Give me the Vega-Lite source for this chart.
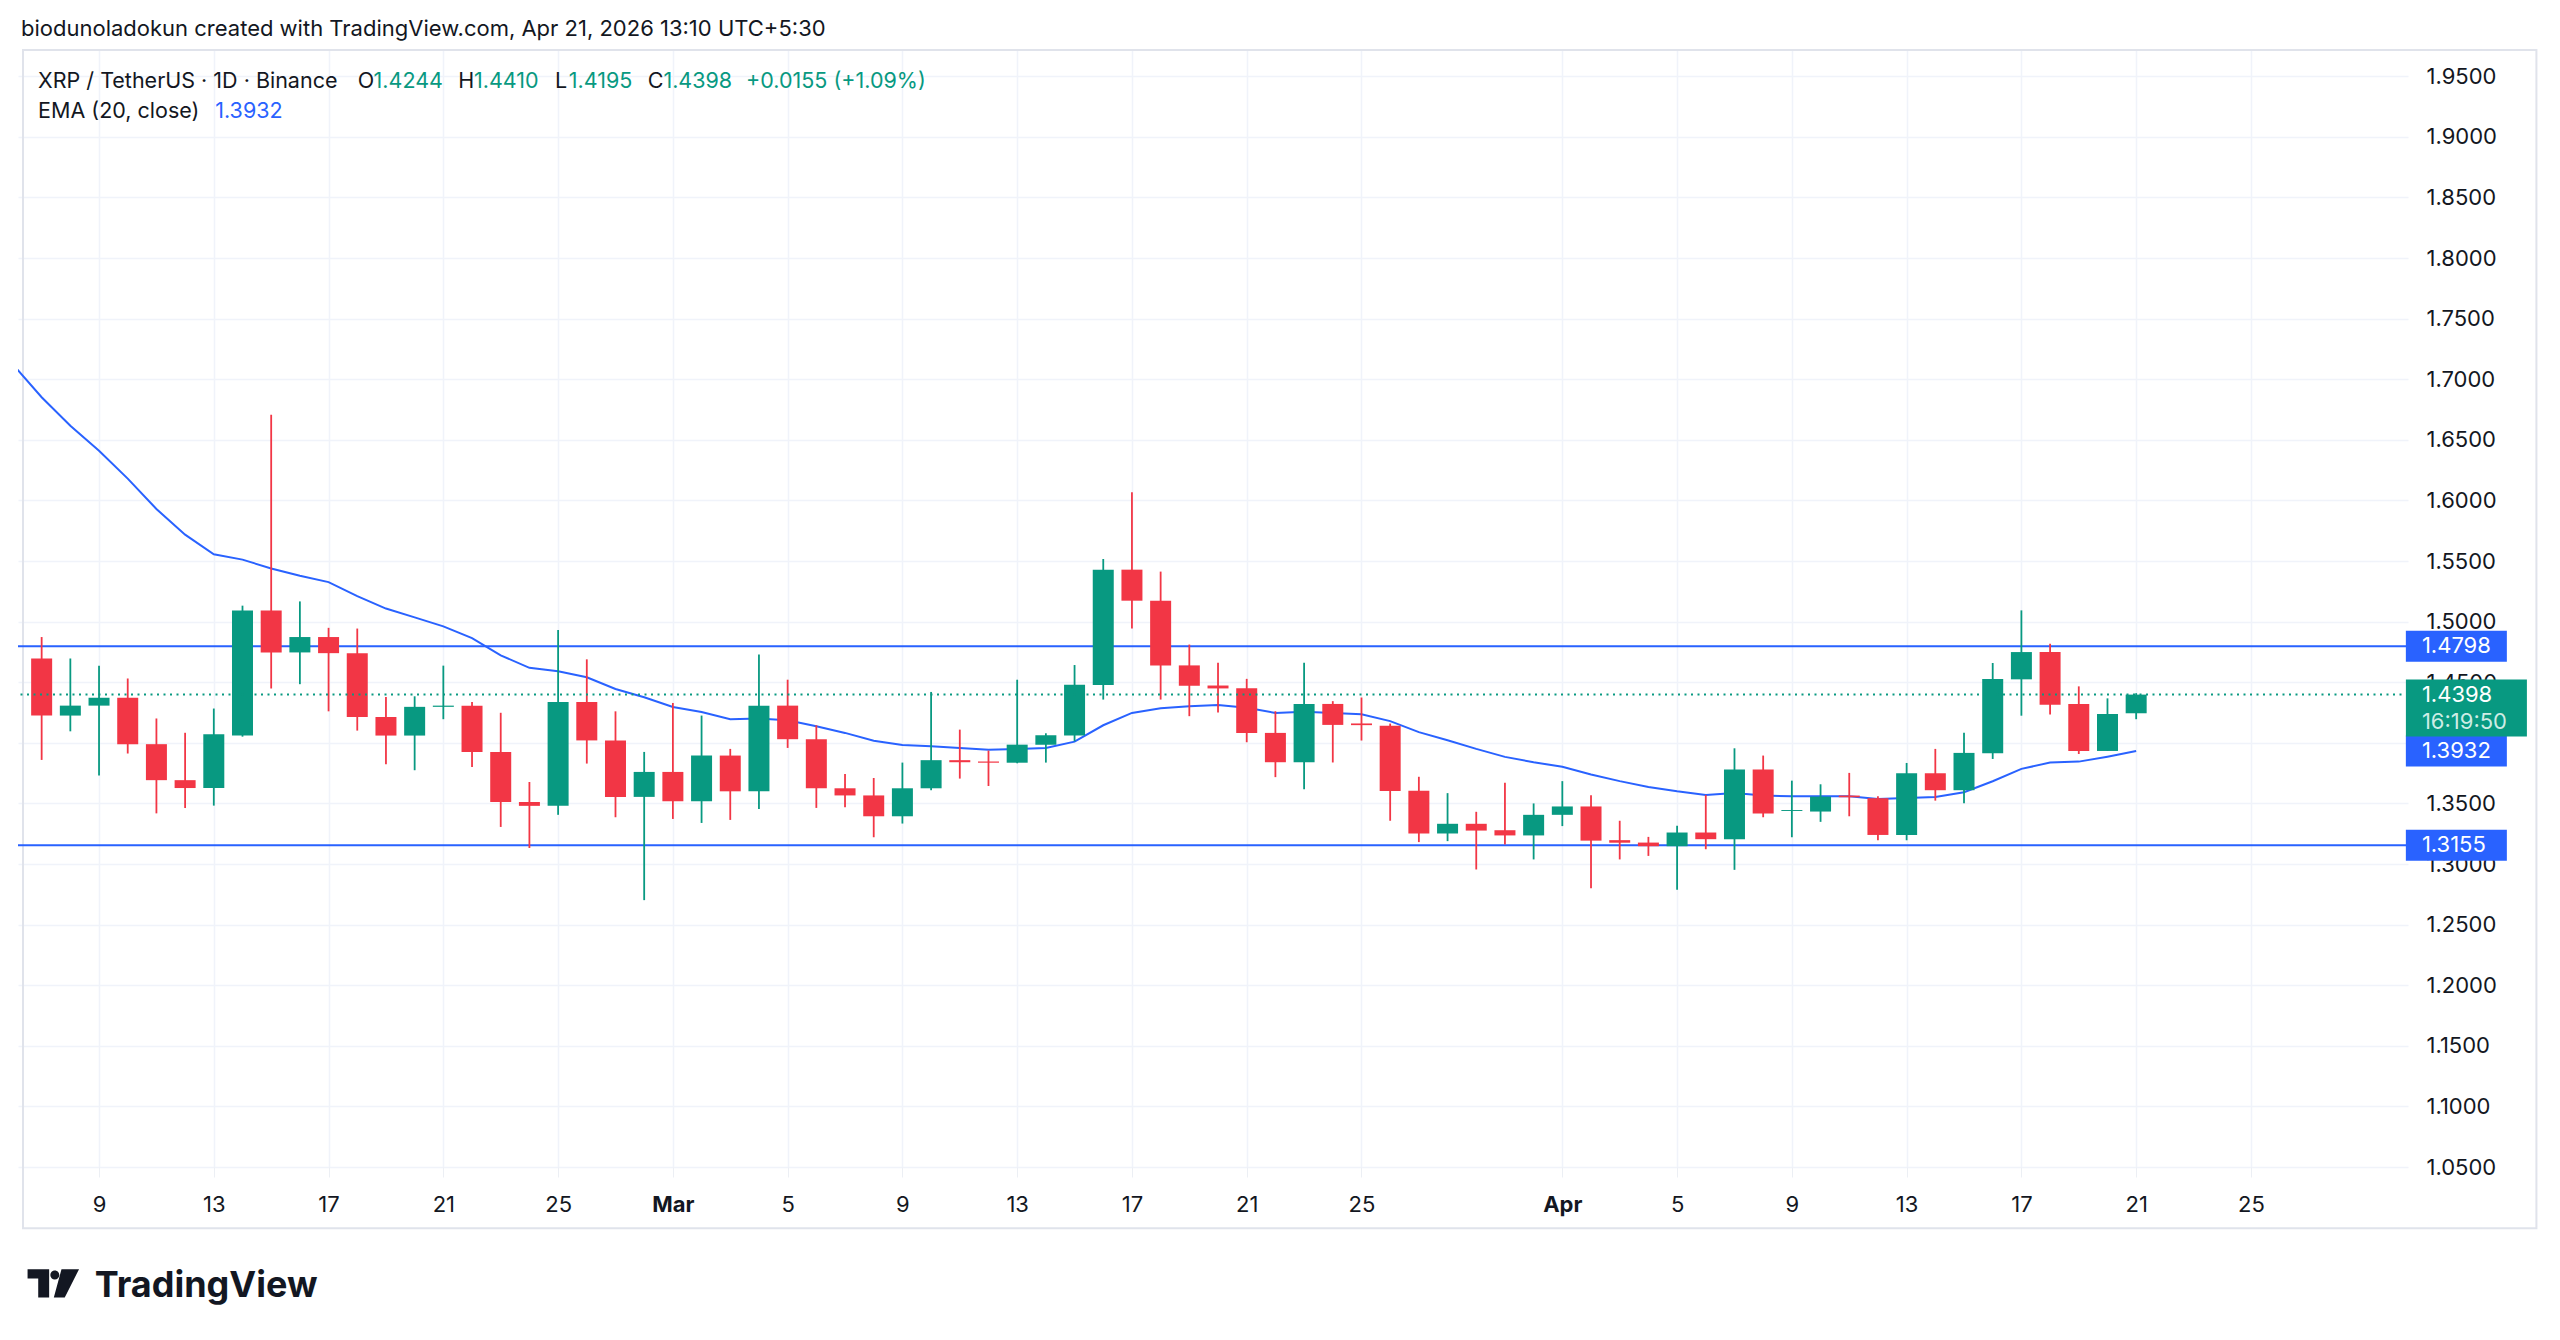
{
  "$schema": "https://vega.github.io/schema/vega-lite/v6.json",
  "autosize": {"type": "none"},
  "width": 2390,
  "height": 1117,
  "padding": {"left": 18, "top": 50, "right": 152, "bottom": 173},
  "background": "#ffffff",
  "title": {
    "text": "biodunoladokun created with TradingView.com, Apr 21, 2026 13:10 UTC+5:30",
    "anchor": "start",
    "frame": "group",
    "offset": 8,
    "dx": 3,
    "fontSize": 22,
    "fontWeight": "normal",
    "color": "#131722"
  },
  "datasets": {
    "candles": [
      {"date": "2026-02-07", "open": 1.4696, "high": 1.4873, "low": 1.3859, "close": 1.4225},
      {"date": "2026-02-08", "open": 1.4225, "high": 1.4696, "low": 1.4095, "close": 1.4307},
      {"date": "2026-02-09", "open": 1.4307, "high": 1.4637, "low": 1.3730, "close": 1.4372},
      {"date": "2026-02-10", "open": 1.4372, "high": 1.4531, "low": 1.3912, "close": 1.3989},
      {"date": "2026-02-11", "open": 1.3989, "high": 1.4201, "low": 1.3418, "close": 1.3692},
      {"date": "2026-02-12", "open": 1.3692, "high": 1.4083, "low": 1.3462, "close": 1.3627},
      {"date": "2026-02-13", "open": 1.3627, "high": 1.4283, "low": 1.3482, "close": 1.4071},
      {"date": "2026-02-14", "open": 1.4060, "high": 1.5132, "low": 1.4051, "close": 1.5091},
      {"date": "2026-02-15", "open": 1.5091, "high": 1.6707, "low": 1.4448, "close": 1.4746},
      {"date": "2026-02-16", "open": 1.4746, "high": 1.5167, "low": 1.4484, "close": 1.4873},
      {"date": "2026-02-17", "open": 1.4873, "high": 1.4949, "low": 1.4260, "close": 1.4740},
      {"date": "2026-02-18", "open": 1.4740, "high": 1.4943, "low": 1.4101, "close": 1.4213},
      {"date": "2026-02-19", "open": 1.4213, "high": 1.4378, "low": 1.3824, "close": 1.4060},
      {"date": "2026-02-20", "open": 1.4060, "high": 1.4384, "low": 1.3774, "close": 1.4297},
      {"date": "2026-02-21", "open": 1.4297, "high": 1.4637, "low": 1.4195, "close": 1.4307},
      {"date": "2026-02-22", "open": 1.4307, "high": 1.4337, "low": 1.3800, "close": 1.3924},
      {"date": "2026-02-23", "open": 1.3924, "high": 1.4248, "low": 1.3306, "close": 1.3512},
      {"date": "2026-02-24", "open": 1.3512, "high": 1.3677, "low": 1.3132, "close": 1.3480},
      {"date": "2026-02-25", "open": 1.3480, "high": 1.4931, "low": 1.3406, "close": 1.4337},
      {"date": "2026-02-26", "open": 1.4337, "high": 1.4689, "low": 1.3829, "close": 1.4020},
      {"date": "2026-02-27", "open": 1.4020, "high": 1.4260, "low": 1.3386, "close": 1.3554},
      {"date": "2026-02-28", "open": 1.3554, "high": 1.3925, "low": 1.2702, "close": 1.3760},
      {"date": "2026-03-01", "open": 1.3760, "high": 1.4329, "low": 1.3372, "close": 1.3518},
      {"date": "2026-03-02", "open": 1.3518, "high": 1.4225, "low": 1.3339, "close": 1.3895},
      {"date": "2026-03-03", "open": 1.3895, "high": 1.3950, "low": 1.3364, "close": 1.3600},
      {"date": "2026-03-04", "open": 1.3600, "high": 1.4728, "low": 1.3455, "close": 1.4307},
      {"date": "2026-03-05", "open": 1.4307, "high": 1.4521, "low": 1.3958, "close": 1.4030},
      {"date": "2026-03-06", "open": 1.4030, "high": 1.4145, "low": 1.3463, "close": 1.3625},
      {"date": "2026-03-07", "open": 1.3625, "high": 1.3743, "low": 1.3469, "close": 1.3566},
      {"date": "2026-03-08", "open": 1.3566, "high": 1.3710, "low": 1.3221, "close": 1.3394},
      {"date": "2026-03-09", "open": 1.3394, "high": 1.3837, "low": 1.3334, "close": 1.3625},
      {"date": "2026-03-10", "open": 1.3625, "high": 1.4420, "low": 1.3609, "close": 1.3857},
      {"date": "2026-03-11", "open": 1.3857, "high": 1.4109, "low": 1.3705, "close": 1.3840},
      {"date": "2026-03-12", "open": 1.3846, "high": 1.3936, "low": 1.3644, "close": 1.3836},
      {"date": "2026-03-13", "open": 1.3836, "high": 1.4521, "low": 1.3831, "close": 1.3985},
      {"date": "2026-03-14", "open": 1.3984, "high": 1.4079, "low": 1.3837, "close": 1.4062},
      {"date": "2026-03-15", "open": 1.4061, "high": 1.4642, "low": 1.4013, "close": 1.4480},
      {"date": "2026-03-16", "open": 1.4478, "high": 1.5517, "low": 1.4357, "close": 1.5429},
      {"date": "2026-03-17", "open": 1.5429, "high": 1.6067, "low": 1.4943, "close": 1.5173},
      {"date": "2026-03-18", "open": 1.5173, "high": 1.5413, "low": 1.4357, "close": 1.4639},
      {"date": "2026-03-19", "open": 1.4639, "high": 1.4811, "low": 1.4220, "close": 1.4471},
      {"date": "2026-03-20", "open": 1.4473, "high": 1.4660, "low": 1.4250, "close": 1.4449},
      {"date": "2026-03-21", "open": 1.4450, "high": 1.4528, "low": 1.4005, "close": 1.4082},
      {"date": "2026-03-22", "open": 1.4082, "high": 1.4261, "low": 1.3717, "close": 1.3840},
      {"date": "2026-03-23", "open": 1.3840, "high": 1.4660, "low": 1.3618, "close": 1.4321},
      {"date": "2026-03-24", "open": 1.4321, "high": 1.4344, "low": 1.3838, "close": 1.4148},
      {"date": "2026-03-25", "open": 1.4160, "high": 1.4374, "low": 1.4019, "close": 1.4146},
      {"date": "2026-03-26", "open": 1.4142, "high": 1.4159, "low": 1.3357, "close": 1.3603},
      {"date": "2026-03-27", "open": 1.3605, "high": 1.3720, "low": 1.3181, "close": 1.3252},
      {"date": "2026-03-28", "open": 1.3252, "high": 1.3585, "low": 1.3189, "close": 1.3332},
      {"date": "2026-03-29", "open": 1.3332, "high": 1.3431, "low": 1.2955, "close": 1.3276},
      {"date": "2026-03-30", "open": 1.3279, "high": 1.3670, "low": 1.3161, "close": 1.3236},
      {"date": "2026-03-31", "open": 1.3236, "high": 1.3500, "low": 1.3038, "close": 1.3406},
      {"date": "2026-04-01", "open": 1.3406, "high": 1.3684, "low": 1.3313, "close": 1.3475},
      {"date": "2026-04-02", "open": 1.3475, "high": 1.3568, "low": 1.2801, "close": 1.3193},
      {"date": "2026-04-03", "open": 1.3197, "high": 1.3357, "low": 1.3038, "close": 1.3176},
      {"date": "2026-04-04", "open": 1.3177, "high": 1.3224, "low": 1.3067, "close": 1.3147},
      {"date": "2026-04-05", "open": 1.3147, "high": 1.3315, "low": 1.2787, "close": 1.3260},
      {"date": "2026-04-06", "open": 1.3260, "high": 1.3570, "low": 1.3122, "close": 1.3205},
      {"date": "2026-04-07", "open": 1.3205, "high": 1.3955, "low": 1.2952, "close": 1.3779},
      {"date": "2026-04-08", "open": 1.3779, "high": 1.3895, "low": 1.3386, "close": 1.3416},
      {"date": "2026-04-09", "open": 1.3438, "high": 1.3688, "low": 1.3221, "close": 1.3446},
      {"date": "2026-04-10", "open": 1.3433, "high": 1.3658, "low": 1.3348, "close": 1.3556},
      {"date": "2026-04-11", "open": 1.3565, "high": 1.3752, "low": 1.3394, "close": 1.3551},
      {"date": "2026-04-12", "open": 1.3543, "high": 1.3559, "low": 1.3196, "close": 1.3240},
      {"date": "2026-04-13", "open": 1.3240, "high": 1.3834, "low": 1.3196, "close": 1.3749},
      {"date": "2026-04-14", "open": 1.3749, "high": 1.3950, "low": 1.3523, "close": 1.3609},
      {"date": "2026-04-15", "open": 1.3609, "high": 1.4084, "low": 1.3501, "close": 1.3917},
      {"date": "2026-04-16", "open": 1.3914, "high": 1.4659, "low": 1.3867, "close": 1.4527},
      {"date": "2026-04-17", "open": 1.4524, "high": 1.5093, "low": 1.4224, "close": 1.4749},
      {"date": "2026-04-18", "open": 1.4749, "high": 1.4818, "low": 1.4233, "close": 1.4315},
      {"date": "2026-04-19", "open": 1.4321, "high": 1.4466, "low": 1.3908, "close": 1.3933},
      {"date": "2026-04-20", "open": 1.3933, "high": 1.4367, "low": 1.3933, "close": 1.4238},
      {"date": "2026-04-21", "open": 1.4244, "high": 1.4410, "low": 1.4195, "close": 1.4398}
    ],
    "ema": [
      {"date": "2026-02-06", "ema": 1.7122},
      {"date": "2026-02-07", "ema": 1.6852},
      {"date": "2026-02-08", "ema": 1.6616},
      {"date": "2026-02-09", "ema": 1.6410},
      {"date": "2026-02-10", "ema": 1.6180},
      {"date": "2026-02-11", "ema": 1.5930},
      {"date": "2026-02-12", "ema": 1.5718},
      {"date": "2026-02-13", "ema": 1.5556},
      {"date": "2026-02-14", "ema": 1.5512},
      {"date": "2026-02-15", "ema": 1.5438},
      {"date": "2026-02-16", "ema": 1.5379},
      {"date": "2026-02-17", "ema": 1.5326},
      {"date": "2026-02-18", "ema": 1.5211},
      {"date": "2026-02-19", "ema": 1.5108},
      {"date": "2026-02-20", "ema": 1.5035},
      {"date": "2026-02-21", "ema": 1.4961},
      {"date": "2026-02-22", "ema": 1.4864},
      {"date": "2026-02-23", "ema": 1.4722},
      {"date": "2026-02-24", "ema": 1.4619},
      {"date": "2026-02-25", "ema": 1.4590},
      {"date": "2026-02-26", "ema": 1.4541},
      {"date": "2026-02-27", "ema": 1.4444},
      {"date": "2026-02-28", "ema": 1.4376},
      {"date": "2026-03-01", "ema": 1.4296},
      {"date": "2026-03-02", "ema": 1.4255},
      {"date": "2026-03-03", "ema": 1.4194},
      {"date": "2026-03-04", "ema": 1.4200},
      {"date": "2026-03-05", "ema": 1.4186},
      {"date": "2026-03-06", "ema": 1.4137},
      {"date": "2026-03-07", "ema": 1.4082},
      {"date": "2026-03-08", "ema": 1.4018},
      {"date": "2026-03-09", "ema": 1.3983},
      {"date": "2026-03-10", "ema": 1.3972},
      {"date": "2026-03-11", "ema": 1.3958},
      {"date": "2026-03-12", "ema": 1.3944},
      {"date": "2026-03-13", "ema": 1.3950},
      {"date": "2026-03-14", "ema": 1.3958},
      {"date": "2026-03-15", "ema": 1.4010},
      {"date": "2026-03-16", "ema": 1.4145},
      {"date": "2026-03-17", "ema": 1.4247},
      {"date": "2026-03-18", "ema": 1.4286},
      {"date": "2026-03-19", "ema": 1.4302},
      {"date": "2026-03-20", "ema": 1.4313},
      {"date": "2026-03-21", "ema": 1.4289},
      {"date": "2026-03-22", "ema": 1.4247},
      {"date": "2026-03-23", "ema": 1.4256},
      {"date": "2026-03-24", "ema": 1.4247},
      {"date": "2026-03-25", "ema": 1.4236},
      {"date": "2026-03-26", "ema": 1.4179},
      {"date": "2026-03-27", "ema": 1.4088},
      {"date": "2026-03-28", "ema": 1.4022},
      {"date": "2026-03-29", "ema": 1.3950},
      {"date": "2026-03-30", "ema": 1.3884},
      {"date": "2026-03-31", "ema": 1.3840},
      {"date": "2026-04-01", "ema": 1.3802},
      {"date": "2026-04-02", "ema": 1.3739},
      {"date": "2026-04-03", "ema": 1.3684},
      {"date": "2026-04-04", "ema": 1.3636},
      {"date": "2026-04-05", "ema": 1.3600},
      {"date": "2026-04-06", "ema": 1.3570},
      {"date": "2026-04-07", "ema": 1.3587},
      {"date": "2026-04-08", "ema": 1.3565},
      {"date": "2026-04-09", "ema": 1.3559},
      {"date": "2026-04-10", "ema": 1.3559},
      {"date": "2026-04-11", "ema": 1.3559},
      {"date": "2026-04-12", "ema": 1.3537},
      {"date": "2026-04-13", "ema": 1.3545},
      {"date": "2026-04-14", "ema": 1.3554},
      {"date": "2026-04-15", "ema": 1.3592},
      {"date": "2026-04-16", "ema": 1.3683},
      {"date": "2026-04-17", "ema": 1.3785},
      {"date": "2026-04-18", "ema": 1.3837},
      {"date": "2026-04-19", "ema": 1.3845},
      {"date": "2026-04-20", "ema": 1.3886},
      {"date": "2026-04-21", "ema": 1.3932}
    ],
    "levels": [
      {"price": 1.4798, "kind": "level"},
      {"price": 1.3155, "kind": "level"},
      {"price": 1.4398, "kind": "last"}
    ],
    "tags": [
      {"price": 1.4798, "label": "1.4798"},
      {"price": 1.3932, "label": "1.3932"},
      {"price": 1.3155, "label": "1.3155"}
    ],
    "lastTag": [
      {"price": 1.4398, "label": "1.4398", "timer": "16:19:50"}
    ],
    "legend": [
      {"line": 1, "kind": "label", "at": "2026-02-06T21:00:00Z", "text": "XRP / TetherUS · 1D · Binance"},
      {"line": 1, "kind": "label", "at": "2026-02-18T00:30:00Z", "text": "O"},
      {"line": 1, "kind": "up", "at": "2026-02-18T13:40:00Z", "text": "1.4244"},
      {"line": 1, "kind": "label", "at": "2026-02-21T12:30:00Z", "text": "H"},
      {"line": 1, "kind": "up", "at": "2026-02-22T01:40:00Z", "text": "1.4410"},
      {"line": 1, "kind": "label", "at": "2026-02-24T21:30:00Z", "text": "L"},
      {"line": 1, "kind": "up", "at": "2026-02-25T08:53:00Z", "text": "1.4195"},
      {"line": 1, "kind": "label", "at": "2026-02-28T03:00:00Z", "text": "C"},
      {"line": 1, "kind": "up", "at": "2026-02-28T16:05:00Z", "text": "1.4398"},
      {"line": 1, "kind": "up", "at": "2026-03-03T13:12:00Z", "text": "+0.0155 (+1.09%)"},
      {"line": 2, "kind": "label", "at": "2026-02-06T21:00:00Z", "text": "EMA (20, close)"},
      {"line": 2, "kind": "ema", "at": "2026-02-13T01:12:00Z", "text": "1.3932"}
    ],
    "brand": [
      {"text": "TradingView"}
    ]
  },
  "layer": [
    {
      "data": {"values": [{}]},
      "mark": {"type": "rect", "fill": null, "stroke": "#e0e3eb", "strokeWidth": 2, "clip": false},
      "encoding": {
        "x": {
          "datum": {"year": 2026, "month": 2, "date": 6, "hours": 8, "minutes": 24, "utc": true},
          "type": "temporal",
          "scale": {
            "type": "utc",
            "domain": [
              {"year": 2026, "month": 2, "date": 6, "hours": 8, "minutes": 24, "utc": true},
              {"year": 2026, "month": 4, "date": 30, "hours": 7, "minutes": 12, "utc": true}
            ]
          },
          "axis": {
            "orient": "bottom",
            "values": [
              {"year": 2026, "month": 2, "date": 9, "utc": true},
              {"year": 2026, "month": 2, "date": 13, "utc": true},
              {"year": 2026, "month": 2, "date": 17, "utc": true},
              {"year": 2026, "month": 2, "date": 21, "utc": true},
              {"year": 2026, "month": 2, "date": 25, "utc": true},
              {"year": 2026, "month": 3, "date": 1, "utc": true},
              {"year": 2026, "month": 3, "date": 5, "utc": true},
              {"year": 2026, "month": 3, "date": 9, "utc": true},
              {"year": 2026, "month": 3, "date": 13, "utc": true},
              {"year": 2026, "month": 3, "date": 17, "utc": true},
              {"year": 2026, "month": 3, "date": 21, "utc": true},
              {"year": 2026, "month": 3, "date": 25, "utc": true},
              {"year": 2026, "month": 4, "date": 1, "utc": true},
              {"year": 2026, "month": 4, "date": 5, "utc": true},
              {"year": 2026, "month": 4, "date": 9, "utc": true},
              {"year": 2026, "month": 4, "date": 13, "utc": true},
              {"year": 2026, "month": 4, "date": 17, "utc": true},
              {"year": 2026, "month": 4, "date": 21, "utc": true},
              {"year": 2026, "month": 4, "date": 25, "utc": true}
            ],
            "labelExpr": "utcdate(datum.value) == 1 ? utcFormat(datum.value, '%b') : '' + utcdate(datum.value)",
            "labelFontWeight": {"condition": {"test": "utcdate(datum.value) == 1", "value": "bold"}, "value": "normal"},
            "grid": true,
            "ticks": true,
            "tickSize": 10,
            "tickColor": "#eceff4",
            "labelPadding": 17,
            "labelFontSize": 22,
            "labelFlush": false,
            "labelOverlap": false
          }
        },
        "x2": {"datum": {"year": 2026, "month": 5, "date": 4, "hours": 22, "minutes": 48, "utc": true}},
        "y": {
          "datum": 1.9717,
          "type": "quantitative",
          "scale": {"domain": [1.05, 1.9717], "nice": false, "zero": false},
          "axis": {
            "orient": "right",
            "values": [1.05, 1.1, 1.15, 1.2, 1.25, 1.3, 1.35, 1.4, 1.45, 1.5, 1.55, 1.6, 1.65, 1.7, 1.75, 1.8, 1.85, 1.9, 1.95],
            "format": ".4f",
            "grid": true,
            "ticks": false,
            "labelPadding": 18,
            "labelFontSize": 22,
            "labelFlush": false,
            "labelOverlap": false
          }
        },
        "y2": {"datum": 0.9994}
      }
    },
    {
      "data": {"name": "levels"},
      "transform": [{"filter": "datum.kind == 'level'"}],
      "mark": {"type": "rule", "color": "#2962FF", "strokeWidth": 2},
      "encoding": {
        "y": {"field": "price", "type": "quantitative"}
      }
    },
    {
      "data": {"name": "ema"},
      "mark": {"type": "line", "color": "#2962FF", "strokeWidth": 2, "clip": true},
      "encoding": {
        "x": {"field": "date", "type": "temporal"},
        "y": {"field": "ema", "type": "quantitative"}
      }
    },
    {
      "data": {"name": "candles"},
      "encoding": {
        "x": {"field": "date", "type": "temporal"},
        "color": {
          "condition": {"test": "datum.close >= datum.open", "value": "#089981"},
          "value": "#F23645"
        }
      },
      "layer": [
        {
          "mark": {"type": "rule", "strokeWidth": 1.8},
          "encoding": {
            "y": {"field": "low", "type": "quantitative"},
            "y2": {"field": "high"}
          }
        },
        {
          "mark": {"type": "bar", "size": 21},
          "encoding": {
            "y": {"field": "open", "type": "quantitative"},
            "y2": {"field": "close"}
          }
        }
      ]
    },
    {
      "data": {"name": "levels"},
      "transform": [{"filter": "datum.kind == 'last'"}],
      "mark": {"type": "rule", "color": "#089981", "strokeWidth": 2, "strokeDash": [2, 4.5]},
      "encoding": {
        "y": {"field": "price", "type": "quantitative"}
      }
    },
    {
      "data": {"name": "legend"},
      "transform": [{"filter": "datum.line == 1"}],
      "mark": {"type": "text", "align": "left", "baseline": "middle", "fontSize": 21.5},
      "encoding": {
        "x": {"field": "at", "type": "temporal"},
        "y": {"datum": 1.9455},
        "text": {"field": "text"},
        "color": {
          "field": "kind",
          "type": "nominal",
          "scale": {"domain": ["label", "up", "ema"], "range": ["#131722", "#089981", "#2962FF"]},
          "legend": null
        }
      }
    },
    {
      "data": {"name": "legend"},
      "transform": [{"filter": "datum.line == 2"}],
      "mark": {"type": "text", "align": "left", "baseline": "middle", "fontSize": 21.5},
      "encoding": {
        "x": {"field": "at", "type": "temporal"},
        "y": {"datum": 1.9207},
        "text": {"field": "text"},
        "color": {"field": "kind", "type": "nominal", "legend": null}
      }
    },
    {
      "data": {"name": "tags"},
      "mark": {"type": "point", "shape": "M-1,-0.307H1V0.307H-1Z", "size": 10201, "filled": true, "opacity": 1, "color": "#2962FF", "clip": false},
      "encoding": {
        "x": {"datum": {"year": 2026, "month": 5, "date": 2, "hours": 3, "minutes": 50, "utc": true}},
        "y": {"field": "price", "type": "quantitative"}
      }
    },
    {
      "data": {"name": "lastTag"},
      "mark": {"type": "point", "shape": "M-1,-0.248H1V0.694H-1Z", "size": 14641, "filled": true, "opacity": 1, "color": "#089981", "clip": false},
      "encoding": {
        "x": {"datum": {"year": 2026, "month": 5, "date": 2, "hours": 12, "minutes": 14, "utc": true}},
        "y": {"field": "price", "type": "quantitative"}
      }
    },
    {
      "data": {"name": "tags"},
      "mark": {"type": "text", "align": "left", "baseline": "middle", "fontSize": 22, "color": "#ffffff", "clip": false},
      "encoding": {
        "x": {"datum": {"year": 2026, "month": 4, "date": 30, "hours": 23, "minutes": 0, "utc": true}},
        "y": {"field": "price", "type": "quantitative"},
        "text": {"field": "label"}
      }
    },
    {
      "data": {"name": "lastTag"},
      "mark": {"type": "text", "align": "left", "baseline": "middle", "fontSize": 22, "color": "#ffffff", "clip": false},
      "encoding": {
        "x": {"datum": {"year": 2026, "month": 4, "date": 30, "hours": 23, "minutes": 0, "utc": true}},
        "y": {"field": "price", "type": "quantitative"},
        "text": {"field": "label"}
      }
    },
    {
      "data": {"name": "lastTag"},
      "mark": {"type": "text", "align": "left", "baseline": "middle", "fontSize": 22, "dy": 27, "color": "#cdece5", "clip": false},
      "encoding": {
        "x": {"datum": {"year": 2026, "month": 4, "date": 30, "hours": 23, "minutes": 0, "utc": true}},
        "y": {"field": "price", "type": "quantitative"},
        "text": {"field": "timer"}
      }
    },
    {
      "data": {"name": "brand"},
      "mark": {"type": "point", "shape": "M-0.99,-0.54H-0.16V0.55H-0.58V-0.18H-0.99Z M-0.115,-0.319A0.173,0.173 0 1,0 0.231,-0.319A0.173,0.173 0 1,0 -0.115,-0.319Z M0.315,-0.54H0.99L0.44,0.55H0.02Z", "size": 2704, "filled": true, "opacity": 1, "color": "#131722", "clip": false},
      "encoding": {
        "x": {"datum": {"year": 2026, "month": 2, "date": 7, "hours": 9, "minutes": 45, "utc": true}},
        "y": {"datum": 0.9541}
      }
    },
    {
      "data": {"name": "brand"},
      "mark": {"type": "text", "align": "left", "baseline": "alphabetic", "fontSize": 36, "fontWeight": "bold", "color": "#131722", "clip": false},
      "encoding": {
        "x": {"datum": {"year": 2026, "month": 2, "date": 8, "hours": 20, "minutes": 20, "utc": true}},
        "y": {"datum": 0.9425},
        "text": {"field": "text"}
      }
    }
  ],
  "config": {
    "font": "Inter",
    "view": {"stroke": null},
    "axis": {
      "title": null,
      "domain": false,
      "gridColor": "#f0f3fa",
      "gridWidth": 1.5,
      "labelColor": "#131722",
      "labelFontSize": 21,
      "labelFont": "Inter"
    }
  }
}
